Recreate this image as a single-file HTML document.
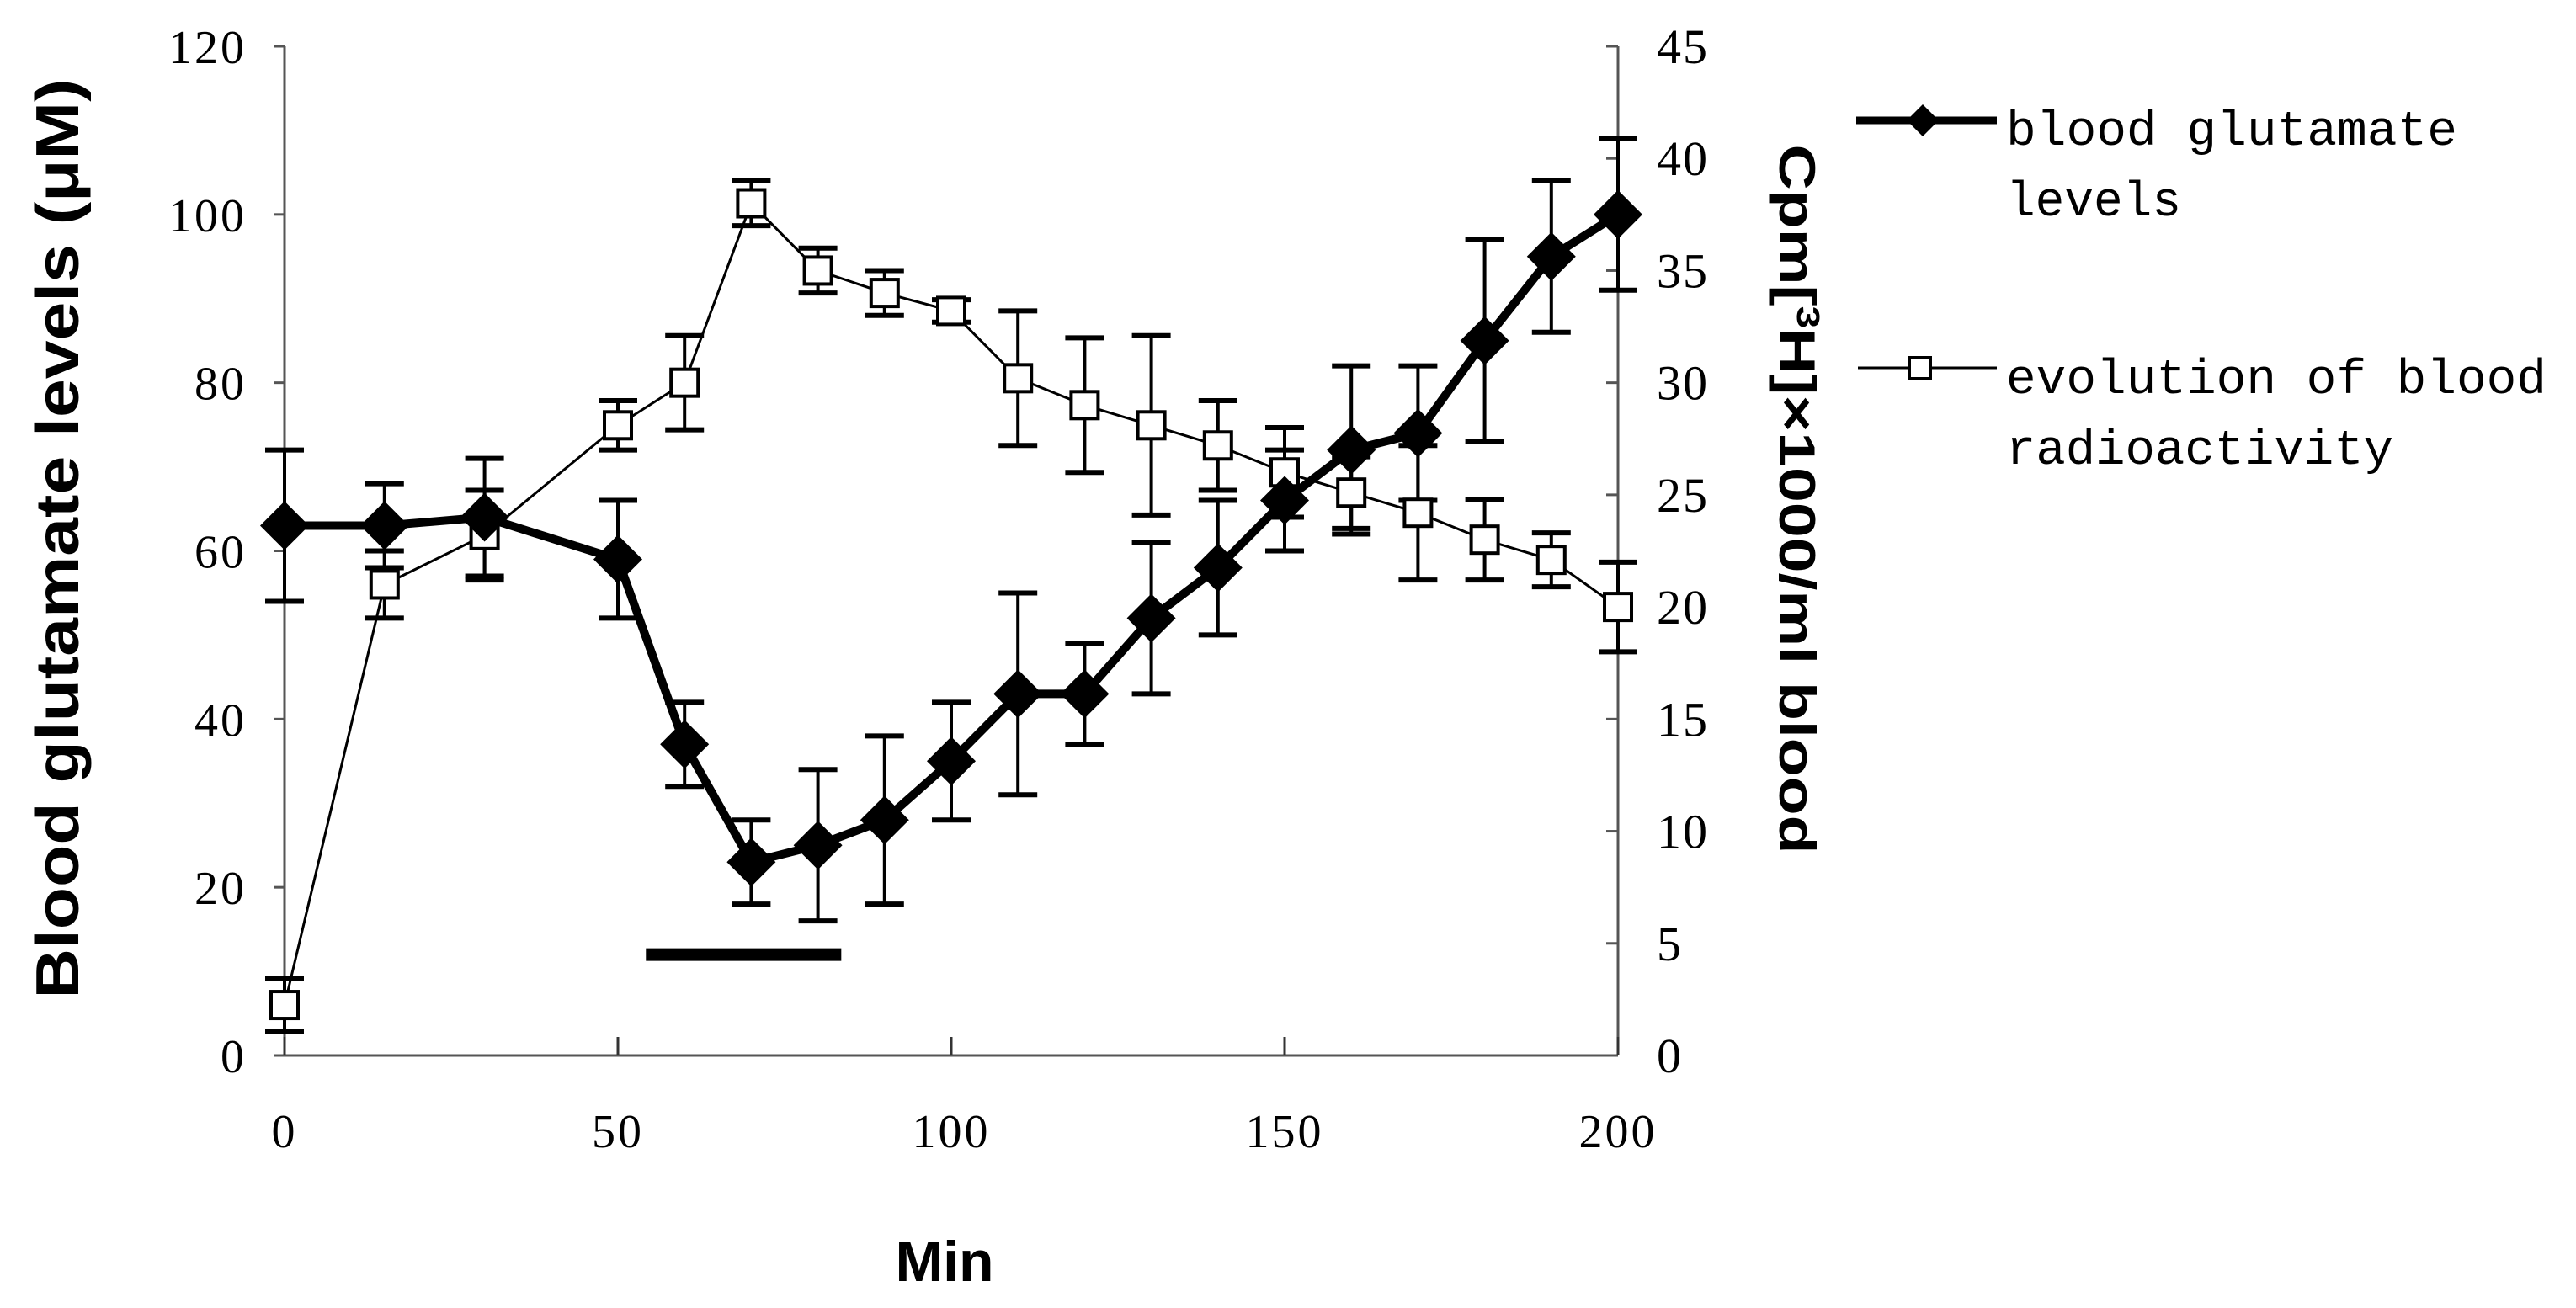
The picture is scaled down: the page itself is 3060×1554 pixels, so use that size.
<!DOCTYPE html>
<html><head><meta charset="utf-8"><style>
html,body{margin:0;padding:0;background:#fff;}
svg{display:block;}
</style></head><body>
<svg id="chart" width="3060" height="1554" viewBox="0 0 3060 1554" xmlns="http://www.w3.org/2000/svg">
<rect width="3060" height="1554" fill="#fff"/>
<g id="axes"></g>
<g id="marks"></g>
<text x="1122" y="1522" font-family="Liberation Sans, sans-serif" font-weight="bold" font-size="68" text-anchor="middle">Min</text>
<text transform="translate(93,640) rotate(-90)" font-family="Liberation Sans, sans-serif" font-weight="bold" font-size="72" text-anchor="middle" textLength="1093" lengthAdjust="spacingAndGlyphs">Blood glutamate levels (μM)</text>
<text transform="translate(2114,593) rotate(90)" font-family="Liberation Sans, 'Noto Sans CJK SC', sans-serif" font-weight="bold" font-size="60" text-anchor="middle" textLength="843" lengthAdjust="spacingAndGlyphs">Cpm[<tspan baseline-shift="super" font-size="38">3</tspan>H]×1000/ml blood</text>
<g font-family="Liberation Mono, monospace" font-size="58">
 <g>
  <line x1="2205" y1="143" x2="2372" y2="143" stroke="#000" stroke-width="9"/>
  <polygon points="2284,124 2303,143 2284,162 2265,143" fill="#000"/>
  <text x="2383" y="172" textLength="536" lengthAdjust="spacingAndGlyphs">blood glutamate</text>
  <text x="2383" y="256" textLength="208" lengthAdjust="spacingAndGlyphs">levels</text>
 </g>
 <g>
  <line x1="2207" y1="437" x2="2372" y2="437" stroke="#000" stroke-width="3"/>
  <rect x="2268" y="425" width="25" height="25" fill="#fff" stroke="#000" stroke-width="4"/>
  <text x="2383" y="467" textLength="642" lengthAdjust="spacingAndGlyphs">evolution of blood</text>
  <text x="2383" y="551" textLength="460" lengthAdjust="spacingAndGlyphs">radioactivity</text>
 </g>
</g>
</svg>
<script>
const times = [0,15,30,50,60,70,80,90,100,110,120,130,140,150,160,170,180,190,200];
const glutamate = [63,63,64,59,37,23,25,28,35,43,43,52,58,66,72,74,85,95,100];
const glutamateErr = [9,5,7,7,5,5,9,10,7,12,6,9,8,6,10,8,12,9,9];
const radio = [2.25,21,23.2,28.1,30,38,35,34,33.2,30.2,29,28.1,27.2,26,25.1,24.2,23,22.1,20];
const radioErr = [1.2,1.5,2,1.1,2.1,1,1,1,0.5,3,3,4,2,2,1.6,3,1.8,1.2,2];
const xTicks = [0,50,100,150,200];
const leftTicks = [0,20,40,60,80,100,120];
const rightTicks = [0,5,10,15,20,25,30,35,40,45];
const barRange = [54.2,83.5];
const barLevel = [12];

const X0=338,X1=1922,Y0=1254,Y1=55;
const xs=t=>X0+(t-0)/(200-0)*(X1-X0);
const yl=v=>Y0-v/120*(Y0-Y1);
const yr=v=>Y0-v/45*(Y0-Y1);
const NS="http://www.w3.org/2000/svg";
function mk(tag,attrs,parent){const e=document.createElementNS(NS,tag);for(const k in attrs)e.setAttribute(k,attrs[k]);parent.appendChild(e);return e;}
const axes=document.getElementById('axes'), marks=document.getElementById('marks');
const serif="Liberation Serif, serif";

let e;
e=mk('line',{x1:X0,y1:Y1,x2:X0,y2:Y0,stroke:'#555','stroke-width':3},axes);


e=mk('line',{x1:X1,y1:Y1,x2:X1,y2:Y0,stroke:'#555','stroke-width':3},axes);


e=mk('line',{x1:X0,y1:Y0,x2:X1,y2:Y0,stroke:'#555','stroke-width':3},axes);



leftTicks.forEach(v=>{
  mk('line',{x1:X0-13,y1:yl(v),x2:X0,y2:yl(v),stroke:'#555','stroke-width':3},axes);
  e=mk('text',{x:293,y:yl(v)+20,'text-anchor':'end','font-family':serif,'font-size':56,'letter-spacing':3},axes);
  e.textContent=v;
  
  
});
rightTicks.forEach(v=>{
  mk('line',{x1:X1-14,y1:yr(v),x2:X1,y2:yr(v),stroke:'#555','stroke-width':3},axes);
  e=mk('text',{x:1968,y:yr(v)+20,'font-family':serif,'font-size':58,'letter-spacing':2},axes);
  e.textContent=v;
  
  
});
xTicks.forEach(v=>{
  mk('line',{x1:xs(v),y1:Y0-22,x2:xs(v),y2:Y0,stroke:'#333','stroke-width':3},axes);
  e=mk('text',{x:xs(v),y:1363,'text-anchor':'middle','font-family':serif,'font-size':56,'letter-spacing':3},axes);
  e.textContent=v;
  
  
});

e=mk('line',{x1:xs(barRange[0]),y1:yl(barLevel[0]),x2:xs(barRange[1]),y2:yl(barLevel[0]),stroke:'#000','stroke-width':15},marks);



function errBars(vals,errs,ys,name){
  vals.forEach((v,i)=>{
    const x=xs(times[i]);
    const g=mk('g',{},marks);
    
    
    mk('line',{x1:x,y1:ys(v-errs[i]),x2:x,y2:ys(v+errs[i]),stroke:'#000','stroke-width':4},g);
    mk('line',{x1:x-23,y1:ys(v-errs[i]),x2:x+23,y2:ys(v-errs[i]),stroke:'#000','stroke-width':6},g);
    mk('line',{x1:x-23,y1:ys(v+errs[i]),x2:x+23,y2:ys(v+errs[i]),stroke:'#000','stroke-width':6},g);
  });
}
errBars(radio,radioErr,yr,'radioactivity-error-bar');
errBars(glutamate,glutamateErr,yl,'glutamate-error-bar');

e=mk('polyline',{points:radio.map((v,i)=>xs(times[i])+','+yr(v)).join(' '),fill:'none',stroke:'#000','stroke-width':3},marks);


radio.forEach((v,i)=>{
  const r=mk('rect',{x:xs(times[i])-16,y:yr(v)-16,width:32,height:32,fill:'#fff',stroke:'#000','stroke-width':4},marks);
  
  
});

e=mk('polyline',{points:glutamate.map((v,i)=>xs(times[i])+','+yl(v)).join(' '),fill:'none',stroke:'#000','stroke-width':10,'stroke-linejoin':'round'},marks);


glutamate.forEach((v,i)=>{
  const x=xs(times[i]),y=yl(v);
  const p=mk('polygon',{points:`${x},${y-29} ${x+29},${y} ${x},${y+29} ${x-29},${y}`,fill:'#000'},marks);
  
  
});
</script>
</body></html>
